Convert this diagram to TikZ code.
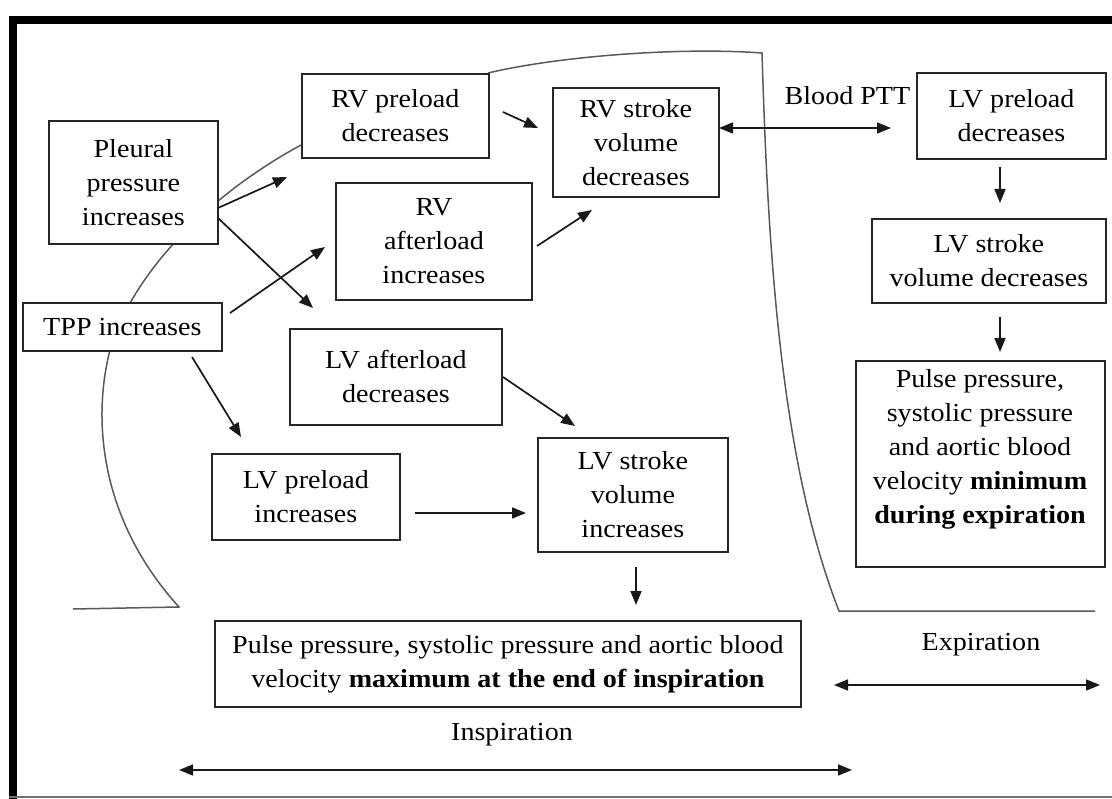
\documentclass[tikz,border=0pt]{standalone}
\usepackage{fontspec}
\setmainfont{Liberation Serif}[FakeStretch=1.08]
\usetikzlibrary{arrows.meta}
\newcommand{\diagfont}{\fontsize{26}{34}\selectfont}
\begin{document}
\begin{tikzpicture}[x=1pt,y=-1pt,
  box/.style={draw=black!85, line width=1.8pt, fill=white, inner sep=0pt, align=center, anchor=north west, font=\diagfont},
  arr/.style={-{Triangle[length=14pt,width=11pt]}, line width=1.7pt, black!90},
  darr/.style={{Triangle[length=14pt,width=11pt]}-{Triangle[length=14pt,width=11pt]}, line width=1.7pt, black!90},
  bound/.style={line width=1.5pt, black!65},
  lbl/.style={font=\diagfont, inner sep=0pt, align=center}]
\useasboundingbox (0,0) rectangle (1112,799);
% frame
\draw[line width=8pt] (9,20) -- (1112,20);
\draw[line width=8pt] (13,16) -- (13,799);
\draw[line width=2pt, black!55] (9,797) -- (1112,797);
% phase boundaries
\draw[bound] (301,145) .. controls (200,200) and (130,280) .. (110,350)
  .. controls (92,420) and (100,520) .. (179,607) -- (73,609);
\draw[bound] (488,73) .. controls (560,56) and (680,47) .. (762,53)
  .. controls (768,250) and (780,460) .. (839,611) -- (1095,611);
% boxes
\node[box, minimum width=169pt, minimum height=123pt] (pleural) at (48,120) {Pleural\\pressure\\increases};
\node[box, minimum width=199pt, minimum height=48pt] (tpp) at (22,302) {TPP increases};
\node[box, minimum width=187pt, minimum height=84pt] (rvpre) at (301,73) {RV preload\\decreases};
\node[box, minimum width=166pt, minimum height=109pt] (rvstroke) at (552,87) {RV stroke\\volume\\decreases};
\node[box, minimum width=196pt, minimum height=117pt] (rvafter) at (335,182) {RV\\afterload\\increases};
\node[box, minimum width=212pt, minimum height=96pt] (lvafter) at (289,328) {LV afterload\\decreases};
\node[box, minimum width=188pt, minimum height=86pt] (lvpreinc) at (211,453) {LV preload\\increases};
\node[box, minimum width=190pt, minimum height=114pt] (lvstrokeinc) at (537,437) {LV stroke\\volume\\increases};
\node[box, minimum width=586pt, minimum height=86pt] (pulsebot) at (214,620) {Pulse pressure, systolic pressure and aortic blood\\velocity \textbf{maximum at the end of inspiration}};
\node[box, minimum width=189pt, minimum height=86pt] (lvpredec) at (916,72) {LV preload\\decreases};
\node[box, minimum width=234pt, minimum height=84pt] (lvstrokedec) at (871,218) {LV stroke\\volume decreases};
\node[box, minimum width=249pt, minimum height=206pt] (pulseright) at (855,360) {};
\node[lbl] (pulserighttxt) at (980,449) {Pulse pressure,\\systolic pressure\\and aortic blood\\velocity \textbf{minimum}\\\textbf{during expiration}};
% labels
\node[lbl, anchor=base] (ptt) at (847.5,105) {Blood PTT};
\node[lbl] (expl) at (981,645) {Expiration};
\node[lbl] (inspl) at (512,735) {Inspiration};
% connector end points
\coordinate (a1s) at (218,208); \coordinate (a1e) at (287,177);
\coordinate (a2s) at (218,218); \coordinate (a2e) at (313,308);
\coordinate (a3s) at (230,313); \coordinate (a3e) at (325,247);
\coordinate (a4s) at (192,357); \coordinate (a4e) at (241,437);
\coordinate (a5s) at (503,112); \coordinate (a5e) at (538,128);
\coordinate (a6s) at (537,246); \coordinate (a6e) at (592,210);
\coordinate (a7s) at (719,128); \coordinate (a7e) at (891,128);
\coordinate (a8s) at (1000,167); \coordinate (a8e) at (1000,203);
\coordinate (a9s) at (1000,317); \coordinate (a9e) at (1000,352);
\coordinate (a10s) at (503,377); \coordinate (a10e) at (575,426);
\coordinate (a11s) at (415,513); \coordinate (a11e) at (526,513);
\coordinate (a12s) at (636,567); \coordinate (a12e) at (636,605);
\coordinate (exs) at (834,685); \coordinate (exe) at (1100,685);
\coordinate (ins) at (179,770); \coordinate (ine) at (852,770);
% arrows
\draw[arr] (a1s) -- (a1e);
\draw[arr] (a2s) -- (a2e);
\draw[arr] (a3s) -- (a3e);
\draw[arr] (a4s) -- (a4e);
\draw[arr] (a5s) -- (a5e);
\draw[arr] (a6s) -- (a6e);
\draw[darr] (a7s) -- (a7e);
\draw[arr] (a8s) -- (a8e);
\draw[arr] (a9s) -- (a9e);
\draw[arr] (a10s) -- (a10e);
\draw[arr] (a11s) -- (a11e);
\draw[arr] (a12s) -- (a12e);
\draw[darr] (exs) -- (exe);
\draw[darr] (ins) -- (ine);
\end{tikzpicture}
\end{document}
